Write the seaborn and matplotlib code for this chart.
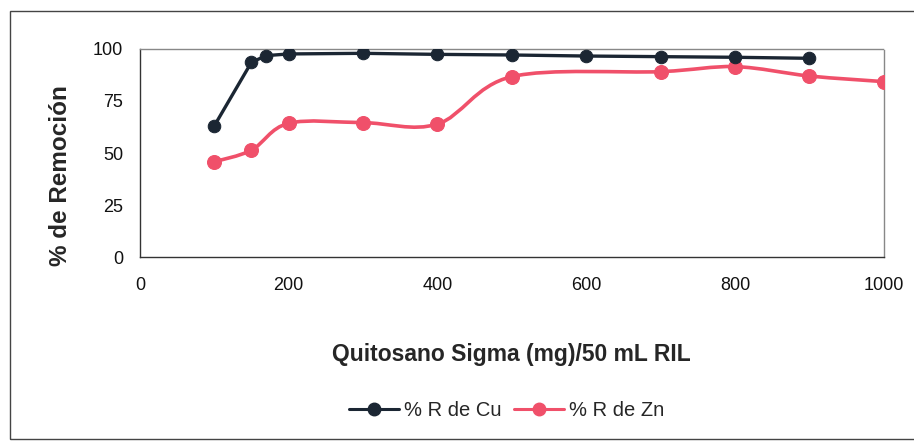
import numpy as np
import pandas as pd
import seaborn as sns
import matplotlib
matplotlib.use("Agg")
import matplotlib.pyplot as plt
from matplotlib.path import Path
from matplotlib.patches import PathPatch, Rectangle
from matplotlib.lines import Line2D

# Removal percentage vs. chitosan dose
dose_cu = [100, 150, 170, 200, 300, 400, 500, 600, 700, 800, 900]
rem_cu = [63, 93.6, 96.8, 97.6, 97.9, 97.4, 97.1, 96.6, 96.3, 96.0, 95.5]

dose_zn = [100, 150, 200, 300, 400, 500, 700, 800, 900, 1000]
rem_zn = [45.8, 51.4, 64.3, 64.6, 63.9, 86.7, 89.1, 91.5, 87.0, 84.3]

x_ticks = [0, 200, 400, 600, 800, 1000]
y_ticks = [0, 25, 50, 75, 100]

CU_COLOR = "#1b2633"
ZN_COLOR = "#f0506a"

sns.set_theme(style="white")
plt.rcParams["font.family"] = ["Liberation Sans", "DejaVu Sans"]

fig = plt.figure(figsize=(9.14, 4.41), dpi=100)
ax = fig.add_axes([0.153, 0.417, 0.814, 0.472])

df_cu = pd.DataFrame({"dose": dose_cu, "rem": rem_cu})
df_zn = pd.DataFrame({"dose": dose_zn, "rem": rem_zn})

sns.lineplot(data=df_cu, x="dose", y="rem", ax=ax, color=CU_COLOR, lw=2.4,
             marker="o", markersize=9, markeredgecolor=CU_COLOR, zorder=4)


def smooth_path(xs, ys, tension=0.5):
    """Cubic Bezier segments through the points (Catmull-Rom style)."""
    xs = np.asarray(xs, float)
    ys = np.asarray(ys, float)
    verts = [(xs[0], ys[0])]
    codes = [Path.MOVETO]
    n = len(xs)
    for i in range(n - 1):
        x0, y0 = (xs[i - 1], ys[i - 1]) if i > 0 else (xs[i], ys[i])
        x3, y3 = (xs[i + 2], ys[i + 2]) if i + 2 < n else (xs[i + 1], ys[i + 1])
        x1, y1 = xs[i], ys[i]
        x2, y2 = xs[i + 1], ys[i + 1]
        c1 = (x1 + (x2 - x0) * tension / 3, y1 + (y2 - y0) * tension / 3)
        c2 = (x2 - (x3 - x1) * tension / 3, y2 - (y3 - y1) * tension / 3)
        verts += [c1, c2, (x2, y2)]
        codes += [Path.CURVE4] * 3
    return Path(verts, codes)


ax.add_patch(PathPatch(smooth_path(dose_zn, rem_zn), facecolor="none",
                       edgecolor=ZN_COLOR, lw=2.6, zorder=3))
sns.scatterplot(data=df_zn, x="dose", y="rem", ax=ax, color=ZN_COLOR, s=100,
                edgecolor=ZN_COLOR, zorder=3, legend=False)

ax.set_xlim(0, 1000)
ax.set_ylim(0, 100)
ax.set_xticks(x_ticks)
ax.set_yticks(y_ticks)
ax.tick_params(axis="both", labelsize=13, colors="#111111", direction="out",
               length=4, width=0.8, pad=10)
ax.tick_params(axis="y", pad=8)

for side in ("left", "bottom"):
    ax.spines[side].set_color("#333333")
    ax.spines[side].set_linewidth(1.0)
for side in ("top", "right"):
    ax.spines[side].set_color("#888888")
    ax.spines[side].set_linewidth(1.0)
    ax.spines[side].set_linestyle((0, (1, 1)))

ax.set_xlabel("Quitosano Sigma (mg)/50 mL RIL", fontsize=16.5, fontweight="bold",
              va="center")
ax.set_ylabel("% de Remoción", fontsize=17.5, fontweight="bold", va="center")
ax.xaxis.set_label_coords(0.5, -0.466)
ax.yaxis.set_label_coords(-0.106, 0.39)

handles = [
    Line2D([], [], color=CU_COLOR, lw=2.2, marker="o", markersize=9),
    Line2D([], [], color=ZN_COLOR, lw=2.2, marker="o", markersize=9),
]
fig.legend(handles, ["% R de Cu", "% R de Zn"], loc="center",
           bbox_to_anchor=(0.554, 0.07), ncol=2, frameon=False, fontsize=14.5,
           handlelength=2.5, columnspacing=0.6, handletextpad=0.25)

# Outer chart frame
fig.patches.append(Rectangle((0.011, 0.005), 1.2, 0.97, transform=fig.transFigure,
                             fill=False, edgecolor="#444444", lw=1.0))

fig.savefig("out.png", dpi=100, facecolor="white")
